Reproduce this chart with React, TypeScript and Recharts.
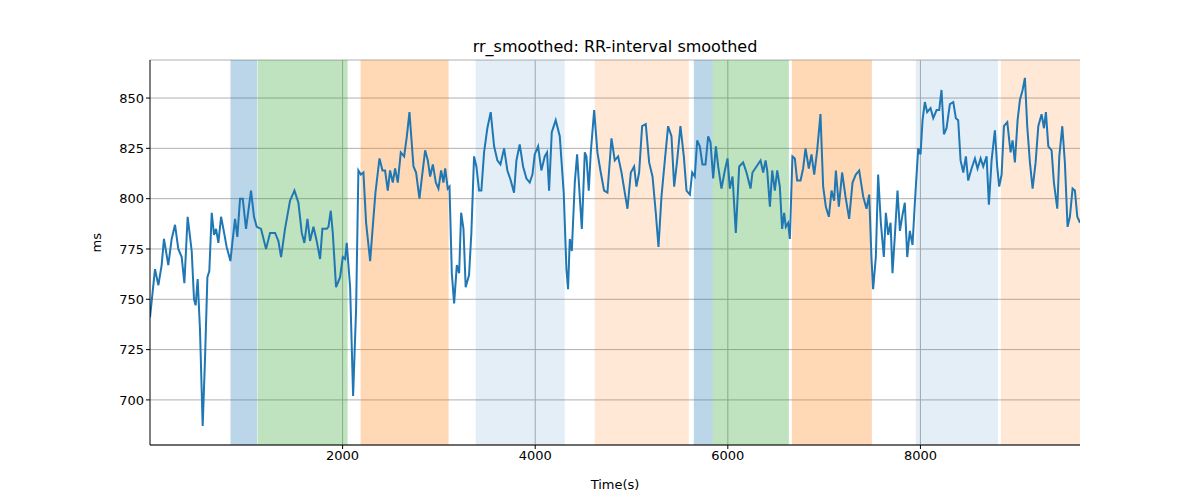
import * as React from "react";
import {
  ComposedChart,
  Line,
  XAxis,
  YAxis,
  CartesianGrid,
  ReferenceArea,
} from "recharts";

const times = [
  0, 52, 87, 121, 145, 190, 225, 260, 294, 329, 357, 391, 433, 457, 474, 495, 519, 547, 571, 596,
  616, 641, 665, 686, 710, 738, 762, 796, 835, 855, 883, 907, 935, 963, 997, 1049, 1080, 1108, 1153, 1205,
  1247, 1299, 1333, 1361, 1402, 1454, 1500, 1541, 1576, 1603, 1635, 1662, 1697, 1731, 1766, 1790, 1835, 1853, 1877, 1898,
  1932, 1974, 2002, 2026, 2043, 2078, 2109, 2140, 2164, 2189, 2216, 2244, 2286, 2313, 2341, 2383, 2414, 2441, 2469, 2493,
  2521, 2545, 2573, 2604, 2639, 2667, 2694, 2736, 2763, 2798, 2822, 2857, 2885, 2909, 2937, 2968, 2995, 3023, 3047, 3065,
  3092, 3110, 3134, 3158, 3186, 3210, 3231, 3255, 3278, 3313, 3337, 3365, 3389, 3417, 3441, 3469, 3503, 3538, 3573, 3607,
  3639, 3677, 3711, 3746, 3780, 3805, 3839, 3874, 3909, 3943, 3971, 3995, 4030, 4064, 4099, 4123, 4144, 4172, 4213, 4255,
  4296, 4324, 4341, 4359, 4380, 4411, 4435, 4456, 4484, 4515, 4532, 4556, 4577, 4612, 4646, 4677, 4715, 4750, 4792, 4826,
  4861, 4896, 4930, 4958, 4993, 5027, 5051, 5079, 5110, 5148, 5183, 5218, 5252, 5280, 5311, 5346, 5380, 5415, 5443, 5474,
  5508, 5543, 5571, 5606, 5630, 5657, 5682, 5709, 5737, 5768, 5796, 5820, 5848, 5876, 5900, 5934, 5969, 5997, 6021, 6049,
  6083, 6118, 6159, 6194, 6236, 6256, 6298, 6340, 6367, 6392, 6409, 6437, 6461, 6488, 6513, 6540, 6564, 6585, 6602, 6626,
  6644, 6671, 6696, 6720, 6755, 6782, 6807, 6841, 6869, 6897, 6928, 6962, 6990, 7018, 7049, 7077, 7104, 7122, 7153, 7187,
  7222, 7260, 7295, 7329, 7364, 7406, 7440, 7468, 7492, 7509, 7537, 7561, 7589, 7620, 7641, 7665, 7690, 7710, 7735, 7762,
  7787, 7814, 7838, 7863, 7890, 7918, 7942, 7977, 8001, 8022, 8046, 8070, 8105, 8133, 8168, 8195, 8219, 8244, 8271, 8306,
  8341, 8368, 8392, 8417, 8445, 8472, 8496, 8531, 8566, 8593, 8625, 8652, 8687, 8711, 8739, 8773, 8797, 8818, 8843, 8867,
  8902, 8936, 8957, 8981, 9009, 9033, 9061, 9085, 9109, 9137, 9165, 9196, 9224, 9258, 9283, 9303, 9328, 9362, 9386, 9421,
  9442, 9473, 9500, 9528, 9552, 9580, 9604, 9629, 9657,
];

const rrValues = [
  741, 765, 757, 767, 780, 767, 780, 787, 775, 771, 758, 791, 774, 750, 747, 760, 735, 687, 720, 761,
  764, 793, 782, 785, 778, 791, 785, 776, 769, 778, 790, 781, 800, 800, 785, 804, 791, 786, 785, 775,
  783, 783, 779, 771, 785, 799, 804, 798, 783, 778, 790, 779, 786, 779, 770, 785, 785, 786, 794, 783,
  756, 761, 771, 770, 778, 756, 702, 745, 814, 812, 813, 788, 769, 786, 803, 820, 814, 814, 804, 814,
  808, 815, 808, 823, 821, 831, 843, 816, 813, 800, 810, 824, 819, 811, 817, 808, 805, 814, 808, 815,
  805, 806, 763, 748, 767, 763, 793, 785, 756, 762, 783, 821, 816, 804, 804, 823, 835, 843, 826, 819,
  817, 825, 814, 809, 803, 819, 827, 816, 810, 808, 812, 822, 826, 814, 821, 823, 804, 833, 839, 831,
  803, 765, 755, 780, 774, 808, 822, 806, 785, 823, 821, 804, 823, 844, 823, 814, 804, 803, 830, 819,
  821, 813, 803, 795, 813, 816, 806, 813, 836, 837, 818, 811, 793, 776, 801, 819, 836, 831, 806, 819,
  836, 821, 804, 802, 813, 811, 829, 826, 817, 817, 831, 828, 810, 826, 816, 805, 814, 820, 805, 811,
  783, 816, 818, 813, 805, 813, 816, 819, 813, 819, 814, 796, 814, 804, 814, 806, 785, 793, 786, 788,
  780, 821, 820, 809, 809, 815, 825, 815, 822, 812, 824, 842, 806, 796, 791, 804, 799, 814, 796, 813,
  801, 790, 808, 812, 814, 801, 795, 802, 770, 755, 771, 812, 788, 771, 793, 782, 788, 763, 782, 804,
  784, 792, 798, 771, 784, 777, 798, 825, 822, 839, 848, 843, 845, 840, 844, 844, 854, 832, 835, 847,
  848, 840, 839, 819, 813, 821, 809, 815, 820, 815, 820, 816, 821, 797, 819, 834, 816, 806, 812, 836,
  838, 823, 829, 818, 839, 849, 854, 860, 836, 818, 805, 818, 836, 842, 835, 843, 826, 824, 808, 795,
  821, 836, 818, 786, 791, 805, 804, 791, 788,
];

// phase bands: start, end, fill, opacity
const bandStarts = [836, 1117, 2187, 3382, 4618, 5647, 5844, 6665, 7953, 8836];
const bandEnds = [1112, 2052, 3101, 4306, 5595, 5844, 6634, 7496, 8805, 9657];
const bandColors = ["#1f77b4", "#2ca02c", "#ff7f0e", "#1f77b4", "#ff7f0e", "#1f77b4", "#2ca02c", "#ff7f0e", "#1f77b4", "#ff7f0e"];
const bandOpacity = [0.3, 0.3, 0.3, 0.12, 0.17, 0.3, 0.3, 0.3, 0.12, 0.17];

const xTicks = [2000, 4000, 6000, 8000];
const yTicks = [700, 725, 750, 775, 800, 825, 850];

const data = times.map((t, i) => ({ t, v: rrValues[i] }));

const tickStyle = { fontSize: 13, fill: "#000", fontFamily: "DejaVu Sans" };

export default function App() {
  return (
    <div style={{ position: "absolute", left: 0, top: 0, width: 1200, height: 500, background: "#fff", fontFamily: "DejaVu Sans" }}>
      <div style={{ position: "absolute", top: 37, width: 1230, textAlign: "center", fontSize: 16 }}>
        rr_smoothed: RR-interval smoothed
      </div>
      <ComposedChart width={1200} height={500} data={data} margin={{ top: 60, right: 120, bottom: 25, left: 90 }}>
        <CartesianGrid stroke="#b0b0b0" strokeWidth={1} verticalValues={xTicks} />
        {bandStarts.map((s, i) => (
          <ReferenceArea
            key={i}
            x1={s}
            x2={bandEnds[i]}
            fill={bandColors[i]}
            fillOpacity={bandOpacity[i]}
            stroke="none"
            ifOverflow="hidden"
          />
        ))}
        <XAxis
          dataKey="t"
          type="number"
          domain={[0, 9657]}
          ticks={xTicks}
          allowDataOverflow
          stroke="#000"
          tick={tickStyle}
          tickSize={4}
          height={30}
          label={{ value: "Time(s)", position: "insideBottom", offset: -14, style: tickStyle }}
        />
        <XAxis xAxisId="top" orientation="top" type="number" domain={[0, 9657]} tick={false} tickLine={false} stroke="#000" height={0} />
        <YAxis
          type="number"
          domain={[677.6, 868.9]}
          ticks={yTicks}
          allowDataOverflow
          stroke="#000"
          width={60}
          tick={tickStyle}
          tickSize={4}
          label={{ value: "ms", angle: -90, position: "insideLeft", offset: 6, style: tickStyle }}
        />
        <YAxis yAxisId="right" orientation="right" tick={false} tickLine={false} stroke="#000" width={0} />
        <Line dataKey="v" stroke="#1f77b4" strokeWidth={2} dot={false} type="linear" isAnimationActive={false} />
      </ComposedChart>
    </div>
  );
}
